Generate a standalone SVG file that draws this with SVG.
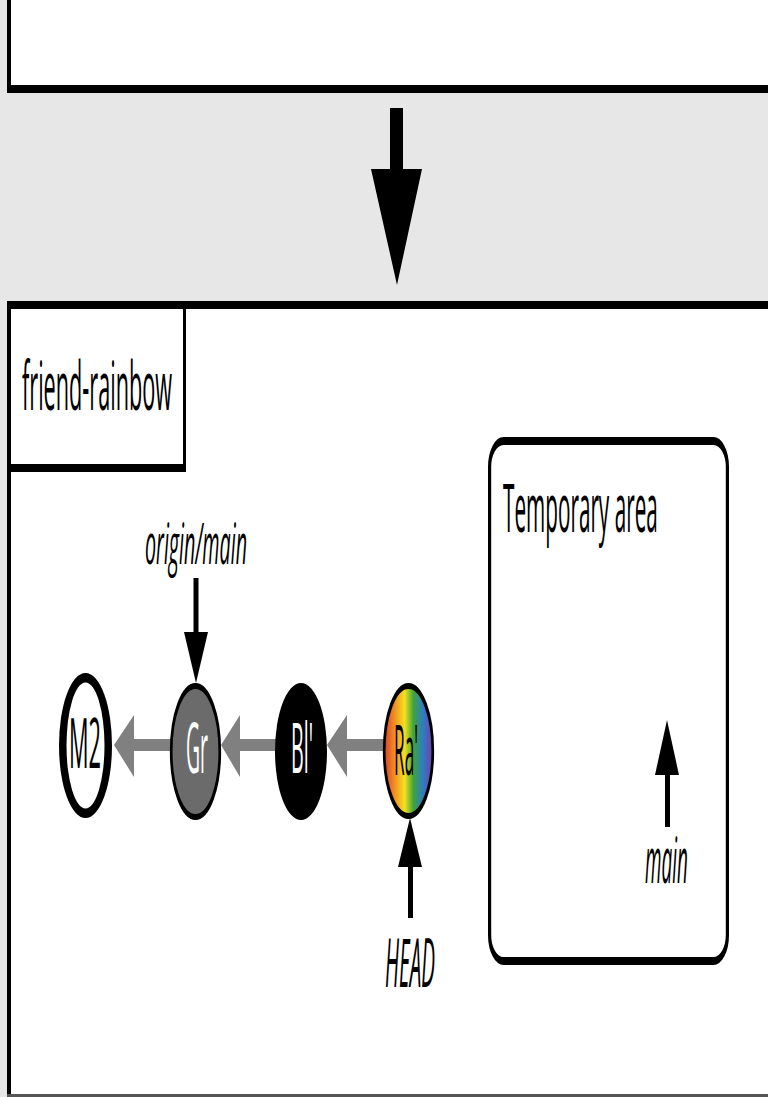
<svg xmlns="http://www.w3.org/2000/svg" width="768" height="1097" viewBox="0 0 768 1097">
<style>
.t{font-family:"Open Sans","Liberation Sans",sans-serif;fill:#000}
.i{font-style:italic}
.w{fill:#fff}
.blk{fill:#000}
.gl{fill:#808080}
</style>
<defs>
<linearGradient id="rainbow" x1="0" y1="0" x2="1" y2="0">
<stop offset="0" stop-color="#d8402b"/>
<stop offset="0.2" stop-color="#f08a22"/>
<stop offset="0.42" stop-color="#f4e11e"/>
<stop offset="0.6" stop-color="#3ea53a"/>
<stop offset="0.8" stop-color="#2d7cc6"/>
<stop offset="1" stop-color="#7a3c9e"/>
</linearGradient>
</defs>
<rect x="0" y="0" width="768" height="1097" fill="#e7e7e7"/>
<g id="top-panel">
<rect x="9" y="0" width="759" height="89" fill="#fff"/>
<rect x="7" y="0" width="4" height="93" class="blk"/>
<rect x="7" y="85" width="761" height="8" class="blk"/>
</g>
<g id="bottom-panel">
<rect x="9" y="305" width="759" height="792" fill="#fff"/>
<rect x="7" y="301" width="4" height="796" class="blk"/>
<rect x="7" y="301" width="761" height="8" class="blk"/>
<rect x="7" y="1094" width="761" height="3" fill="#555"/>
</g>
<g id="branch-tab">
<rect x="183" y="305" width="3" height="166" class="blk"/>
<rect x="7" y="464" width="179" height="8" class="blk"/>
<text class="t" transform="translate(22,410) scale(0.4,1)" font-size="68" textLength="375" lengthAdjust="spacingAndGlyphs">friend-rainbow</text>
</g>
<g id="temporary-area">
<rect transform="translate(489.6,0) scale(0.4,1)" x="0" y="441" width="594.5" height="520" rx="35" ry="26" fill="#fff" stroke="#000" stroke-width="8"/>
<text class="t" transform="translate(503,532) scale(0.4,1)" font-size="68" textLength="387" lengthAdjust="spacingAndGlyphs">Temporary area</text>
</g>
<g id="connectors">
<path id="big-arrow" d="M390,108 H403 V169 H422 L397,285 L371,169 H390 Z" class="blk"/>
<g id="parent-links" class="gl">
<rect x="346" y="739" width="38" height="12"/>
<polygon points="327,745 347,715 347,777"/>
<rect x="239" y="739" width="37" height="12"/>
<polygon points="221,745 240,715 240,777"/>
<rect x="133" y="739" width="38" height="12"/>
<polygon points="114,745 134,715 134,777"/>
</g>
<g id="ref-arrows" class="blk">
<rect x="193.5" y="578" width="5" height="56"/>
<polygon points="184,632 208,632 196,683"/>
<rect x="408" y="865" width="5" height="53"/>
<polygon points="410,818 422,867 398,867"/>
<rect x="665" y="773" width="5" height="54"/>
<polygon points="667,720 679,775 655,775"/>
</g>
</g>
<g id="node-M2">
<ellipse cx="85.5" cy="745.5" rx="26.5" ry="72.5" class="blk"/>
<ellipse cx="85.5" cy="745.5" rx="19" ry="63" class="w"/>
<text class="t" transform="translate(69,768) scale(0.4,1)" font-size="70" textLength="80" lengthAdjust="spacingAndGlyphs">M2</text>
</g>
<g id="node-Gr">
<ellipse transform="translate(195.5,751.5) scale(0.45,1)" cx="0" cy="0" rx="54" ry="65.5" fill="#6b6b6b" stroke="#000" stroke-width="6"/>
<text class="t w" transform="translate(186,773) scale(0.4,1)" font-size="70" textLength="55" lengthAdjust="spacingAndGlyphs">Gr</text>
</g>
<g id="node-Bl">
<ellipse cx="301" cy="751.5" rx="26" ry="68.5" class="blk"/>
<text class="t w" transform="translate(291,773) scale(0.4,1)" font-size="70" textLength="55" lengthAdjust="spacingAndGlyphs">Bl'</text>
</g>
<g id="node-Ra">
<ellipse transform="translate(408.5,751) scale(0.45,1)" cx="0" cy="0" rx="54" ry="65" fill="url(#rainbow)" stroke="#000" stroke-width="6"/>
<text class="t" transform="translate(394,775) scale(0.4,1)" font-size="70" textLength="60" lengthAdjust="spacingAndGlyphs">Ra'</text>
</g>
<g id="label-origin-main">
<text class="t i" transform="translate(145,564) scale(0.4,1)" font-size="56" textLength="255" lengthAdjust="spacingAndGlyphs">origin/main</text>
</g>
<g id="label-HEAD">
<text class="t i" transform="translate(385,987) scale(0.4,1)" font-size="68" textLength="125" lengthAdjust="spacingAndGlyphs">HEAD</text>
</g>
<g id="label-main">
<text class="t i" transform="translate(645,883) scale(0.4,1)" font-size="64" textLength="107" lengthAdjust="spacingAndGlyphs">main</text>
</g>
</svg>
